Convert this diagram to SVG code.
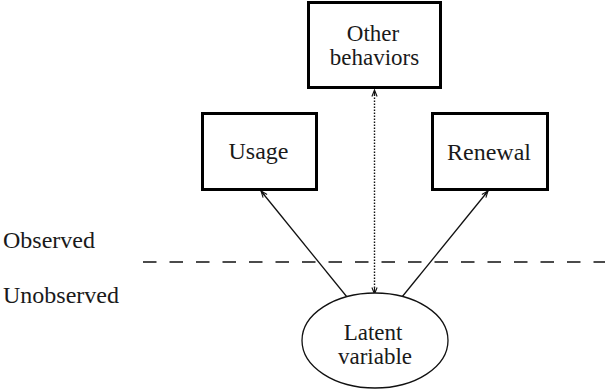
<svg xmlns="http://www.w3.org/2000/svg" width="605" height="391" viewBox="0 0 605 391">
<defs>
<marker id="ah" viewBox="-8 -4 10 8" refX="0" refY="0" markerWidth="10" markerHeight="8" markerUnits="userSpaceOnUse" orient="auto-start-reverse">
<path d="M -6.5 -2.6 L 0 0 L -6.5 2.6 M -6 0 L 0 0" fill="none" stroke="#111" stroke-width="1.1"/>
</marker>
</defs>
<g id="labels">
<text x="3" y="248" font-family="Liberation Serif, Times New Roman, serif" font-size="24" fill="#1a1a1a">Observed</text>
<text x="3" y="303" font-family="Liberation Serif, Times New Roman, serif" font-size="24" fill="#1a1a1a">Unobserved</text>
</g>
<g id="separator">
<line x1="143" y1="262" x2="605" y2="262" fill="none" stroke="#111" stroke-width="1.3" stroke-dasharray="13.5 13"/>
</g>
<g id="connectors" fill="none" stroke="#111">
<line x1="347" y1="297" x2="261" y2="191" stroke-width="1.3" marker-end="url(#ah)"/>
<line x1="402" y1="297" x2="488" y2="191" stroke-width="1.3" marker-end="url(#ah)"/>
<path d="M 374.5 294 L 374.5 90" stroke-width="1.4" stroke-dasharray="1.4 1.6" marker-start="url(#ah)" marker-end="url(#ah)"/>
</g>
<g id="other">
<rect x="308.5" y="2.5" width="132" height="85" fill="#fff" stroke="#000" stroke-width="3"/>
<text x="373" y="41" font-family="Liberation Serif, Times New Roman, serif" font-size="23" fill="#1a1a1a" text-anchor="middle">Other</text>
<text x="374.5" y="65" font-family="Liberation Serif, Times New Roman, serif" font-size="23" fill="#1a1a1a" text-anchor="middle">behaviors</text>
</g>
<g id="usage">
<rect x="202.5" y="113.5" width="114" height="76" fill="#fff" stroke="#000" stroke-width="3"/>
<text x="258.5" y="159" font-family="Liberation Serif, Times New Roman, serif" font-size="24" fill="#1a1a1a" text-anchor="middle">Usage</text>
</g>
<g id="renewal">
<rect x="432.5" y="113.5" width="115" height="76" fill="#fff" stroke="#000" stroke-width="3"/>
<text x="489" y="160" font-family="Liberation Serif, Times New Roman, serif" font-size="24" fill="#1a1a1a" text-anchor="middle">Renewal</text>
</g>
<g id="latent">
<ellipse cx="375" cy="340.5" rx="73" ry="47.5" fill="#fff" stroke="#111" stroke-width="1.3"/>
<text x="373" y="340" font-family="Liberation Serif, Times New Roman, serif" font-size="23" fill="#1a1a1a" text-anchor="middle">Latent</text>
<text x="375" y="364" font-family="Liberation Serif, Times New Roman, serif" font-size="23" fill="#1a1a1a" text-anchor="middle">variable</text>
</g>
</svg>
